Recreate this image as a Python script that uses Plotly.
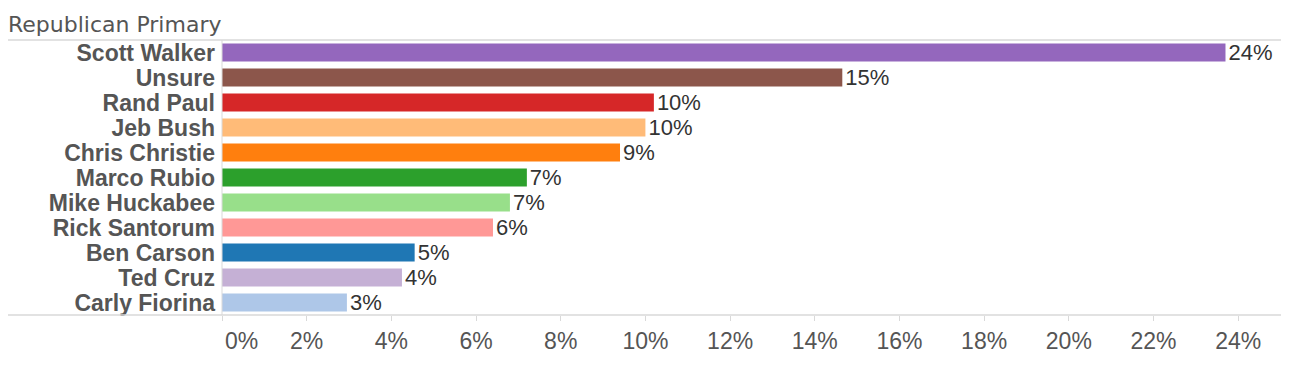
import plotly.graph_objects as go

candidates = ["Scott Walker", "Unsure", "Rand Paul", "Jeb Bush", "Chris Christie",
              "Marco Rubio", "Mike Huckabee", "Rick Santorum", "Ben Carson",
              "Ted Cruz", "Carly Fiorina"]
values = [23.7, 14.65, 10.2, 10.0, 9.4, 7.2, 6.8, 6.4, 4.55, 4.25, 2.95]
colors = ["#9467bd", "#8c564b", "#d62728", "#ffbb78", "#ff7f0e", "#2ca02c",
          "#98df8a", "#ff9896", "#1f77b4", "#c5b0d5", "#aec7e8"]
tick_vals = list(range(0, 25, 2))
tick_text = [f"{v}%" for v in tick_vals]
title_text = "Republican Primary"

# page body has an 8px margin; plot area in page coords: x 222..1289, y 40..315
W, H = 1281, 372
L, T, B = 214, 32, 65
PW = W - L

fig = go.Figure(go.Bar(
    x=values, y=candidates, orientation="h",
    marker=dict(color=colors, line=dict(width=0)),
    text=[f"{round(v)}%" for v in values],
    textposition="outside",
    constraintext="none",
    textfont=dict(family="Liberation Sans, Arial", size=22, color="#333333"),
    cliponaxis=False,
    hoverinfo="skip",
))

annotations = [dict(
    text=title_text, xref="paper", yref="paper",
    x=-L / PW, y=1, xanchor="left", yanchor="bottom", yshift=1, xshift=-2,
    showarrow=False,
    font=dict(family="DejaVu Sans", size=22, color="#555555"),
)]
# first tick label is left-aligned at its tick
annotations.append(dict(
    text=tick_text[0], xref="x", yref="paper", x=tick_vals[0], y=0,
    xanchor="left", yanchor="top", yshift=-11, xshift=1, showarrow=False,
    font=dict(family="Liberation Sans, Arial", size=23, color="#555555"),
))

fig.update_layout(
    width=W, height=H,
    margin=dict(l=L, r=0, t=T, b=B),
    paper_bgcolor="white", plot_bgcolor="white",
    bargap=0.28,
    showlegend=False,
    font=dict(family="Liberation Sans, Arial", color="#555555"),
    annotations=annotations,
    shapes=[
        dict(type="line", xref="paper", yref="paper", x0=-L / PW, x1=1, y0=1, y1=1,
             line=dict(color="#d9d9d9", width=1.5)),
        dict(type="line", xref="paper", yref="paper", x0=-L / PW, x1=1, y0=0, y1=0,
             line=dict(color="#d9d9d9", width=1.5)),
        dict(type="line", xref="paper", yref="paper", x0=0, x1=0, y0=0, y1=1,
             line=dict(color="#d9d9d9", width=1)),
    ],
)

fig.update_xaxes(
    range=[0, 25.2], tickmode="array", tickvals=tick_vals,
    ticktext=[""] + tick_text[1:],
    showgrid=False, zeroline=False, showline=False,
    ticks="outside", ticklen=5, tickcolor="#d9d9d9",
    tickfont=dict(family="Liberation Sans, Arial", size=23, color="#555555"),
)
fig.update_yaxes(
    categoryorder="array", categoryarray=candidates, autorange="reversed",
    tickmode="array", tickvals=candidates, ticktext=candidates,
    showgrid=False, zeroline=False, showline=False, ticks="",
    ticklabelstandoff=6,
    tickfont=dict(family="Liberation Sans, Arial", size=23, color="#555555",
                  weight="bold"),
)

fig.write_html("out.html")
